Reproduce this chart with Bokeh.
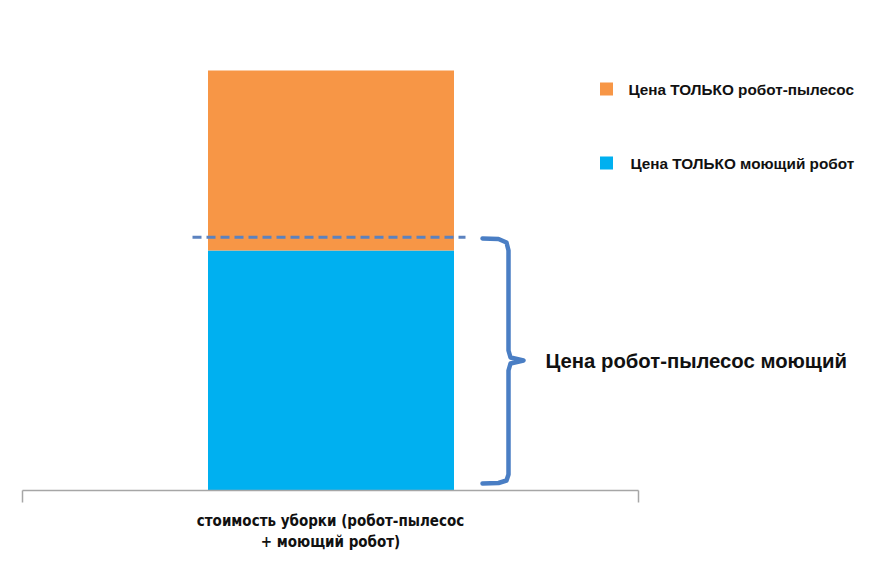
from bokeh.plotting import figure
from bokeh.models import Range1d
from bokeh.core.properties import value
from bokeh.embed import file_html
from bokeh.resources import INLINE

# values (1 unit = 6 px on screen)
category = "стоимость уборки (робот-пылесос\n+ моющий робот)"
series_names = ["Цена ТОЛЬКО робот-пылесос", "Цена ТОЛЬКО моющий робот"]
series_colors = ["#F79646", "#00B0F0"]
washer_price = [40.0]
vacuum_price = [30.0]
combo_price = 42.2
brace_label = "Цена робот-пылесос моющий"

PX = 6.0  # px per unit
W, H = 856, 565
base_px = 490  # baseline distance from top of frame

def yv(py):
    # screen y -> value
    return (490 - py) / PX

p = figure(width=W, height=H, output_backend="svg", toolbar_location=None,
           x_range=Range1d(0, W), y_range=Range1d(-(H - base_px) / PX, base_px / PX),
           min_border=0, outline_line_color=None)
p.axis.visible = False
p.grid.visible = False
p.background_fill_color = "white"
p.border_fill_color = "white"

bar_x = 330.5
bar_w = 246
p.vbar(x=[bar_x], width=bar_w, bottom=[0], top=washer_price, color=series_colors[1], line_color=None)
p.vbar(x=[bar_x], width=bar_w, bottom=washer_price, top=[washer_price[0] + vacuum_price[0]],
       color=series_colors[0], line_color=None)

# dashed combo price line
p.line([192, 465], [combo_price, combo_price], line_color="#5B82C0", line_width=3,
       line_dash="9 5")

# brace
bx = [482, 498, 506, 508, 508, 510, 523, 510, 508, 508, 506, 498, 482]
by = [238, 238.5, 242, 250, 350, 357, 360, 363, 370, 474, 480, 482.5, 483]
p.line(bx, [yv(v) for v in by], line_color="#4A7EC4", line_width=4.5, line_join="round",
       line_cap="round")
p.text([545], [yv(360)], text=[brace_label], text_font=value("Liberation Sans"),
       text_font_style="bold", text_font_size="20.3px", text_baseline="middle",
       text_color="#111111")

# x axis
p.line([22, 638], [0, 0], line_color="#A6A6A6", line_width=1.5)
p.segment([22, 638], [0, 0], [22, 638], [yv(502), yv(502)], line_color="#A6A6A6", line_width=1.5)
p.text([330], [yv(511)], text=[category], text_font=value("DejaVu Sans Condensed, Roboto"),
       text_font_style="bold", text_font_size="15px", text_align="center",
       text_baseline="top", text_line_height=1.2, text_color="#111111")

# legend
leg_y = [yv(88.5), yv(162.5)]
leg_tx = [628, 630]
p.scatter([606, 606], leg_y, marker="square", size=13, color=series_colors, line_color=None)
p.text(leg_tx, leg_y, text=series_names, text_font=value("Liberation Sans"),
       text_font_style="bold", text_font_size="15.3px", text_baseline="middle",
       text_color="#111111")

open("out.html", "w").write(file_html(p, INLINE))
